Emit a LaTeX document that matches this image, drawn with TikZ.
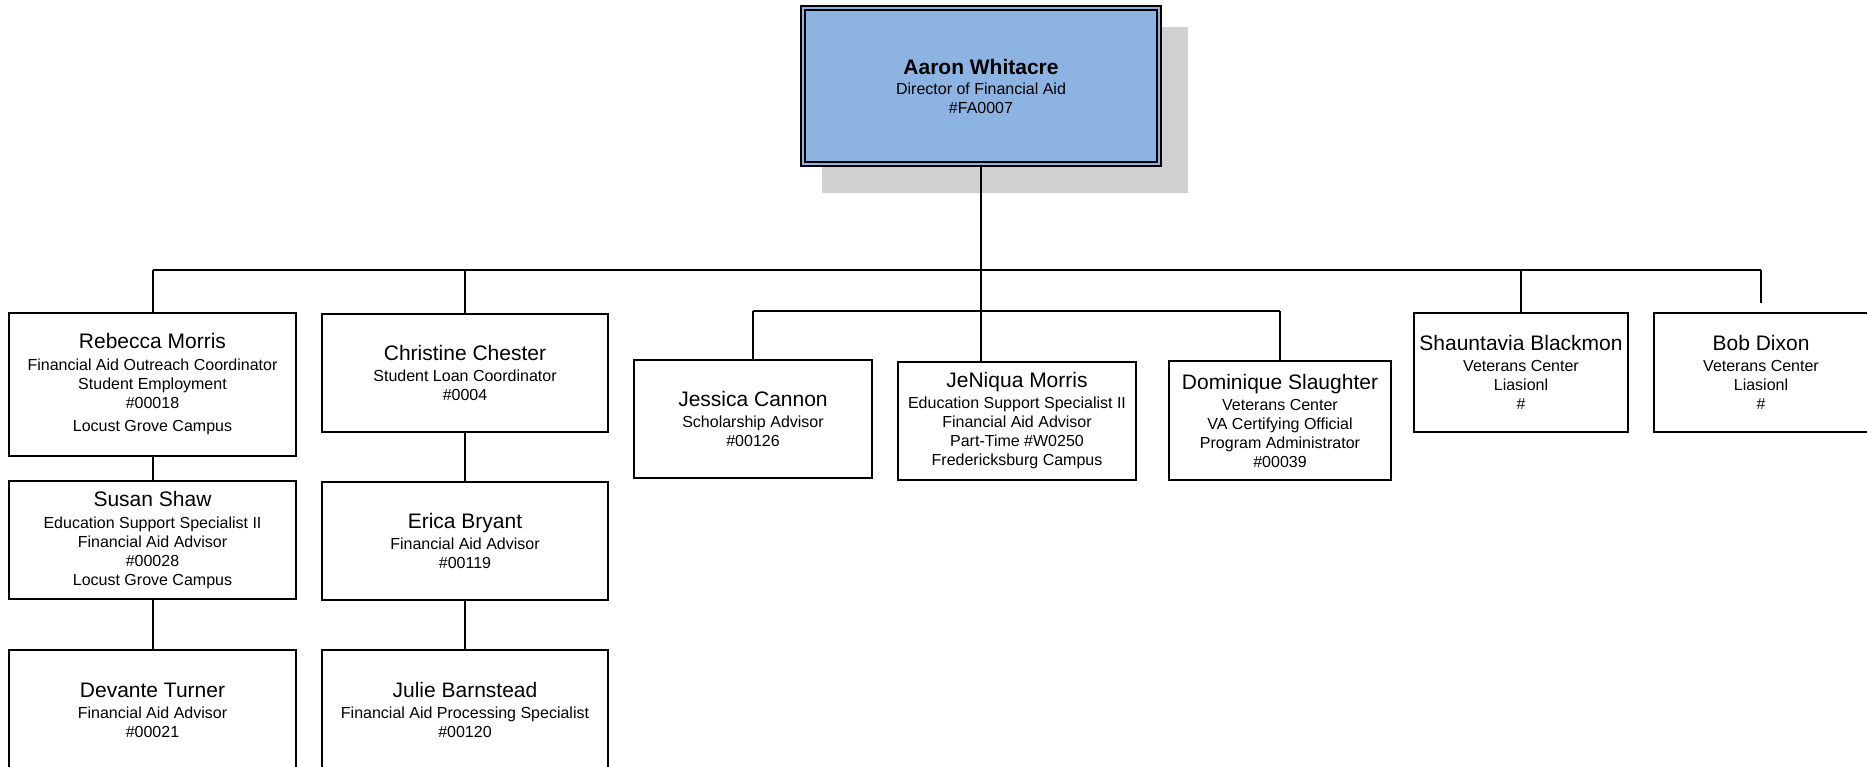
\documentclass[tikz,border=0pt]{standalone}
\usepackage{fontspec}
\setmainfont{Liberation Sans}
\usetikzlibrary{backgrounds}
\definecolor{topblue}{HTML}{8DB3E2}
\definecolor{shadowgray}{HTML}{D0D0D0}
\tikzset{
  person/.style={draw=black, line width=2pt, fill=white, rectangle, inner sep=0pt,
    align=center, font=\fontsize{16}{19}\selectfont},
  conn/.style={draw=black, line width=2pt},
}
\newcommand{\pname}[1]{{\fontsize{21}{21}\selectfont #1}}
\begin{document}
\begin{tikzpicture}[x=1pt, y={(0,-1pt)}]
\useasboundingbox (0,0) rectangle (1867,767);
\clip (0,0) rectangle (1867,767);

% top box
\node[draw=black, line width=2pt, double=topblue, double distance=2.5pt, fill=topblue,
      rectangle, inner sep=0pt, minimum width=356pt, minimum height=156pt,
      align=center, font=\fontsize{16}{19}\selectfont] (top) at (981,86)
  {{\fontsize{21}{21}\selectfont\bfseries Aaron Whitacre}\\[1pt]Director of Financial Aid\\\#FA0007};
\begin{scope}[on background layer]
\fill[white] (0,0) rectangle (1867,767);
\fill[shadowgray] ([shift={(20,20)}]top.north west) rectangle ([shift={(28,28)}]top.south east);
\end{scope}

% level boxes
\node[person, minimum width=287pt, minimum height=143pt] (rebecca) at (152.5,384.5)
  {\pname{Rebecca Morris}\\[3pt]Financial Aid Outreach Coordinator\\Student Employment\\\#00018\\[4pt]Locust Grove Campus};
\node[person, minimum width=287pt, minimum height=118pt] (susan) at (152.5,540)
  {\pname{Susan Shaw}\\[3pt]Education Support Specialist II\\Financial Aid Advisor\\\#00028\\Locust Grove Campus};
\node[person, minimum width=287pt, minimum height=120pt] (devante) at (152.5,710)
  {\pname{Devante Turner}\\[2pt]Financial Aid Advisor\\\#00021};

\node[person, minimum width=286pt, minimum height=118pt] (christine) at (465,373)
  {\pname{Christine Chester}\\[2pt]Student Loan Coordinator\\\#0004};
\node[person, minimum width=286pt, minimum height=118pt] (erica) at (465,541)
  {\pname{Erica Bryant}\\[2pt]Financial Aid Advisor\\\#00119};
\node[person, minimum width=286pt, minimum height=120pt] (julie) at (465,710)
  {\pname{Julie Barnstead}\\[2pt]Financial Aid Processing Specialist\\\#00120};

\node[person, minimum width=238pt, minimum height=118pt] (jessica) at (753,419)
  {\pname{Jessica Cannon}\\[2pt]Scholarship Advisor\\\#00126};
\node[person, minimum width=238pt, minimum height=118pt] (jeniqua) at (1017,421)
  {\pname{JeNiqua Morris}\\[2pt]Education Support Specialist II\\Financial Aid Advisor\\Part-Time \#W0250\\Fredericksburg Campus};
\node[person, minimum width=222pt, minimum height=119pt] (dominique) at (1280,420.5)
  {\pname{Dominique Slaughter}\\[2pt]Veterans Center\\VA Certifying Official\\Program Administrator\\\#00039};

\node[person, minimum width=214pt, minimum height=119pt] (shauntavia) at (1521,372.5)
  {\pname{Shauntavia Blackmon}\\[2pt]Veterans Center\\Liasionl\\\#};
\node[person, minimum width=214pt, minimum height=119pt] (bob) at (1761,372.5)
  {\pname{Bob Dixon}\\[2pt]Veterans Center\\Liasionl\\\#};

% connectors
\coordinate (bus) at (0,270);
\coordinate (sub) at (0,311);
\draw[conn] (top.south) -- (top.south |- jeniqua.north);
\draw[conn] (rebecca.north |- bus) -- (bob.north |- bus);
\draw[conn] (rebecca.north |- bus) -- (rebecca.north);
\draw[conn] (christine.north |- bus) -- (christine.north);
\draw[conn] (shauntavia.north |- bus) -- (shauntavia.north);
\draw[conn, shorten >=9pt] (bob.north |- bus) -- (bob.north);
\draw[conn] (jessica.north |- sub) -- (dominique.north |- sub);
\draw[conn] (jessica.north |- sub) -- (jessica.north);
\draw[conn] (dominique.north |- sub) -- (dominique.north);
\draw[conn] (rebecca.south) -- (susan.north);
\draw[conn] (susan.south) -- (devante.north);
\draw[conn] (christine.south) -- (erica.north);
\draw[conn] (erica.south) -- (julie.north);
\end{tikzpicture}
\end{document}
